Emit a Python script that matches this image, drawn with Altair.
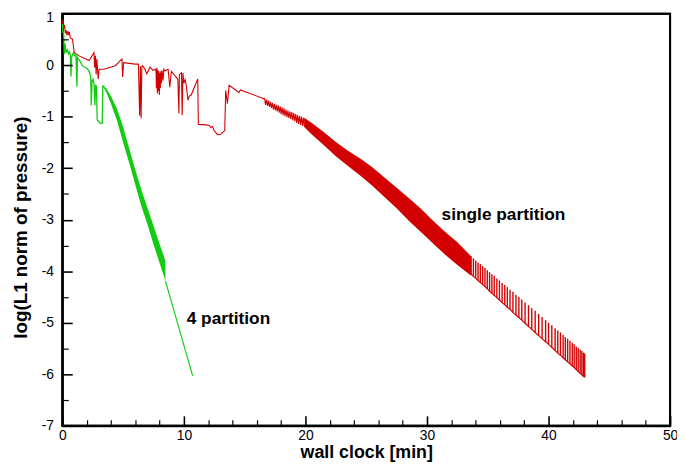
import altair as alt
import pandas as pd

RED = "#d20000"
GREEN = "#12cc12"
FONT = "Liberation Sans"

# ---------------- data ----------------
# single partition: irregular start (t in min, log10 L1 norm)
red_t = [0.00, 0.05, 0.10, 0.18, 0.25, 0.30, 0.38, 0.45, 0.52, 0.58, 0.65, 0.84, 0.98, 1.38, 1.93,
         2.20, 2.60, 2.66, 2.72, 2.78, 2.84, 2.95, 3.02, 3.41, 3.96, 4.36, 4.90, 4.96, 5.04, 5.99,
         6.26, 6.36, 6.42, 6.48, 6.54, 6.61, 6.80, 6.94, 7.21, 7.45, 7.70, 7.74, 7.78, 7.82, 7.86,
         7.90, 7.94, 7.98, 8.02, 8.06, 8.10, 8.15, 8.20, 8.28, 8.35, 8.43, 8.70, 8.84, 8.97, 9.24,
         9.50, 9.59, 9.63, 9.80, 9.86, 9.92, 10.00, 10.10, 10.20, 10.33, 10.45, 10.60, 11.14, 11.19,
         11.81, 12.09, 12.22, 12.36, 12.49, 12.76, 13.03, 13.36, 13.44, 13.58, 13.72, 14.53, 14.66,
         16.56]
red_v = [0.80, 0.88, 0.72, 0.78, 0.62, 0.68, 0.58, 0.66, 0.60, 0.64, 0.53, 0.50, 0.24, 0.18, 0.12,
         0.09, 0.24, -0.05, 0.18, -0.18, 0.12, -0.27, -0.08, -0.08, -0.04, -0.01, 0.12, -0.23, 0.05, 0.02,
         0.02, -0.98, -0.02, -1.03, -0.03, -0.01, -0.08, -0.17, -0.04, -0.10, -0.08, -0.45, -0.05, -0.55, -0.10,
         -0.50, -0.12, -0.58, -0.15, -0.45, -0.12, -0.35, -0.10, -0.30, -0.08, -0.11, -0.08, -0.43, -0.12, -0.20,
         -0.27, -0.94, -0.18, -0.15, -0.97, -0.15, -0.35, -0.28, -0.40, -0.68, -0.60, -0.58, -0.27, -1.15,
         -1.16, -1.17, -1.21, -1.19, -1.27, -1.35, -1.34, -1.27, -0.49, -0.75, -0.39, -0.53, -0.48,
         -0.65]
# single partition: first small oscillations
red_osc_t = [16.64, 16.72, 16.80, 16.88, 16.96, 17.04, 17.12, 17.20, 17.28, 17.36, 17.44, 17.52, 17.60, 17.68,
             17.76, 17.84, 17.92, 18.00, 18.08, 18.16, 18.24, 18.32, 18.40, 18.48, 18.56, 18.64, 18.72, 18.80,
             18.88, 18.96, 19.04, 19.12, 19.20, 19.28, 19.36, 19.44, 19.52, 19.60, 19.68, 19.76, 19.84, 19.92]
red_osc_v = [-0.65, -0.77, -0.67, -0.79, -0.69, -0.81, -0.71, -0.83, -0.73, -0.86, -0.75, -0.88, -0.77, -0.90,
             -0.78, -0.92, -0.80, -0.95, -0.82, -0.97, -0.84, -0.99, -0.86, -1.01, -0.88, -1.03, -0.90, -1.05,
             -0.91, -1.07, -0.93, -1.09, -0.95, -1.12, -0.97, -1.14, -0.99, -1.16, -1.00, -1.18, -1.02, -1.20]
# single partition: dense oscillation band (upper / lower envelope)
red_band_t = [19.9, 20.5, 21.5, 22.5, 23.5, 24.5, 25.5, 26.5, 27.5, 28.5, 29.5, 30.5, 31.5, 32.5, 33.63]
red_band_hi = [-1.02, -1.12, -1.30, -1.49, -1.66, -1.81, -1.98, -2.18, -2.38, -2.58, -2.79, -3.02, -3.24, -3.44, -3.71]
red_band_lo = [-1.20, -1.34, -1.55, -1.77, -1.96, -2.14, -2.34, -2.56, -2.78, -3.02, -3.24, -3.46, -3.68, -3.88, -4.09]
# single partition: separate spikes at the end
red_tooth_t = [33.63, 33.82, 34.01, 34.20, 34.39, 34.58, 34.77, 34.96, 35.15, 35.34, 35.53, 35.75, 35.96, 36.18,
               36.40, 36.61, 36.83, 37.07, 37.32, 37.56, 37.80, 38.07, 38.35, 38.62, 38.90, 39.19, 39.47, 39.76,
               40.00, 40.27, 40.54, 40.76, 40.98, 41.20, 41.38, 41.57, 41.76, 41.95, 42.11, 42.28, 42.44, 42.60,
               42.74, 42.87, 42.98]
red_tooth_hi = [-3.71, -3.75, -3.79, -3.83, -3.86, -3.90, -3.94, -3.98, -4.02, -4.06, -4.09, -4.14, -4.18, -4.23,
                -4.27, -4.31, -4.36, -4.40, -4.46, -4.50, -4.55, -4.61, -4.66, -4.72, -4.77, -4.83, -4.89, -4.95,
                -5.00, -5.05, -5.11, -5.15, -5.19, -5.24, -5.28, -5.31, -5.35, -5.39, -5.42, -5.46, -5.49, -5.52,
                -5.55, -5.58, -5.60]
red_tooth_lo = [-4.06, -4.10, -4.14, -4.18, -4.22, -4.26, -4.30, -4.34, -4.39, -4.43, -4.47, -4.51, -4.56, -4.61,
                -4.65, -4.70, -4.74, -4.80, -4.85, -4.90, -4.95, -5.01, -5.07, -5.13, -5.19, -5.25, -5.31, -5.37,
                -5.42, -5.48, -5.54, -5.59, -5.63, -5.68, -5.72, -5.76, -5.80, -5.84, -5.87, -5.91, -5.95, -5.98,
                -6.01, -6.04, -6.06]

# 4 partition
green_t = [0.00, 0.05, 0.10, 0.16, 0.22, 0.30, 0.40, 0.50, 0.57, 0.66, 0.71, 0.76, 0.90, 1.03, 1.12, 1.20,
           1.24, 1.45, 1.65, 1.85, 2.06, 2.20, 2.33, 2.38, 2.44, 2.52, 2.60, 2.68, 2.74, 2.80, 2.87, 3.00,
           3.15, 3.28, 3.33]
green_v = [0.80, 0.62, 0.66, 0.22, 0.42, 0.25, 0.30, 0.22, 0.26, 0.20, -0.22, 0.15, 0.24, 0.18, 0.20, -0.42,
           0.15, 0.08, -0.01, -0.04, -0.07, -0.12, -0.22, -0.78, -0.30, -0.27, -0.36, -0.78, -0.38, -0.42, -1.06, -1.10,
           -1.13, -1.13, -0.39]
green_band_t = [3.35, 3.6, 4.0, 4.5, 5.0, 5.5, 6.0, 6.5, 7.0, 7.5, 8.0, 8.48]
green_band_hi = [-0.39, -0.45, -0.60, -0.85, -1.20, -1.62, -2.03, -2.42, -2.77, -3.12, -3.47, -3.80]
green_band_lo = [-0.42, -0.52, -0.75, -1.08, -1.50, -1.90, -2.32, -2.74, -3.09, -3.48, -3.84, -4.19]
green_tail_t = [8.48, 10.72]
green_tail_v = [-4.19, -6.03]

x_dom = [0, 50]
y_dom = [-7, 1]
x_major = [0, 10, 20, 30, 40, 50]
x_minor = [2, 4, 6, 8, 12, 14, 16, 18, 22, 24, 26, 28, 32, 34, 36, 38, 42, 44, 46, 48]
y_major = [-7, -6, -5, -4, -3, -2, -1, 0, 1]
y_minor = [-6.5, -5.5, -4.5, -3.5, -2.5, -1.5, -0.5, 0.5]

note_text = ["single partition", "4 partition"]
note_t = [31.2, 10.23]
note_v = [-3.01, -5.02]

# ---------------- tables ----------------
red_line = pd.DataFrame({"t": red_t + red_osc_t, "v": red_v + red_osc_v})
red_line["i"] = range(len(red_line))
red_band = pd.DataFrame({"t": red_band_t, "hi": red_band_hi, "lo": red_band_lo})
red_teeth = pd.DataFrame({"t": red_tooth_t, "hi": red_tooth_hi, "lo": red_tooth_lo})
green_line = pd.DataFrame({"t": green_t, "v": green_v})
green_line["i"] = range(len(green_line))
green_band = pd.DataFrame({"t": green_band_t, "hi": green_band_hi, "lo": green_band_lo})
green_tail = pd.DataFrame({"t": green_tail_t, "v": green_tail_v})
notes = pd.DataFrame({"txt": note_text, "t": note_t, "v": note_v})
frame = pd.DataFrame({"x0": [x_dom[0]], "x1": [x_dom[1]], "y0": [y_dom[0]], "y1": [y_dom[1]]})

xs = alt.Scale(domain=x_dom, nice=False, zero=False)
ys = alt.Scale(domain=y_dom, nice=False, zero=False)

x_lab_axis = alt.Axis(orient="bottom", values=x_major, labelExpr="toString(datum.value)",
                      ticks=False, tickSize=0, domain=True, domainColor="black", domainWidth=2,
                      grid=False, labelFlush=False,
                      labelOverlap=False, labelFont=FONT, labelFontSize=14, labelColor="black",
                      labelPadding=3, title="wall clock [min]", titleFont=FONT, titleFontSize=18,
                      titleFontWeight="bold", titleColor="black", titleY=32,
                      titleBaseline="alphabetic")
y_lab_axis = alt.Axis(orient="left", values=y_major, labelExpr="toString(datum.value)",
                      ticks=False, tickSize=0, domain=True, domainColor="black", domainWidth=2,
                      grid=False, labelFlush=False,
                      labelOverlap=False, labelFont=FONT, labelFontSize=14, labelColor="black",
                      labelPadding=9,
                      labelOffset={"condition": {"test": "datum.value == 1", "value": 4}, "value": 0},
                      title="log(L1 norm of pressure)", titleFont=FONT,
                      titleFontSize=19, titleFontWeight="bold", titleColor="black",
                      titleX=-36, titleY=216, titleAngle=270, titleBaseline="alphabetic",
                      titleAlign="center")


def tick_axis(orient, vals, size, width):
    return alt.Axis(orient=orient, values=vals, labels=False, domain=False, grid=False,
                    ticks=True, tickSize=size, tickWidth=width, tickColor="black",
                    offset=-size, title=None, zindex=1)


box = alt.Chart(frame).mark_rect(filled=False, stroke="#000000", strokeWidth=2).encode(
    x=alt.X("x0:Q", scale=xs, axis=None),
    x2="x1:Q",
    y=alt.Y("y0:Q", scale=ys, axis=None),
    y2="y1:Q",
)
red_main = alt.Chart(red_line).mark_line(color=RED, strokeWidth=1.1).encode(
    x=alt.X("t:Q", scale=xs, axis=x_lab_axis),
    y=alt.Y("v:Q", scale=ys, axis=y_lab_axis),
    order="i:Q",
)
red_area = alt.Chart(red_band).mark_area(color=RED, opacity=1).encode(
    x=alt.X("t:Q", scale=xs, axis=tick_axis("bottom", x_major, 10, 1.6)),
    y=alt.Y("hi:Q", scale=ys, axis=tick_axis("left", y_major, 10, 1.6)),
    y2="lo:Q",
)
red_spikes = alt.Chart(red_teeth).mark_rule(color=RED, strokeWidth=1.4).encode(
    x=alt.X("t:Q", scale=xs, axis=tick_axis("bottom", x_minor, 6, 1.2)),
    y=alt.Y("hi:Q", scale=ys, axis=tick_axis("left", y_minor, 6, 1.2)),
    y2="lo:Q",
)
red_floor = alt.Chart(red_teeth).mark_line(color=RED, strokeWidth=1.2).encode(
    x=alt.X("t:Q", scale=xs, axis=None),
    y=alt.Y("lo:Q", scale=ys, axis=None),
)
green_main = alt.Chart(green_line).mark_line(color=GREEN, strokeWidth=1.3).encode(
    x=alt.X("t:Q", scale=xs, axis=None),
    y=alt.Y("v:Q", scale=ys, axis=None),
    order="i:Q",
)
green_area = alt.Chart(green_band).mark_area(color=GREEN, opacity=1).encode(
    x=alt.X("t:Q", scale=xs, axis=None),
    y=alt.Y("hi:Q", scale=ys, axis=None),
    y2="lo:Q",
)
green_end = alt.Chart(green_tail).mark_line(color=GREEN, strokeWidth=1.1).encode(
    x=alt.X("t:Q", scale=xs, axis=None),
    y=alt.Y("v:Q", scale=ys, axis=None),
)
labels = alt.Chart(notes).mark_text(align="left", baseline="alphabetic", font=FONT,
                                    fontSize=17.5, fontWeight="bold", color="black").encode(
    x=alt.X("t:Q", scale=xs, axis=None),
    y=alt.Y("v:Q", scale=ys, axis=None),
    text="txt:N",
)

chart = alt.layer(
    box, red_main, red_area, red_spikes, red_floor, green_main, green_area, green_end, labels
).resolve_axis(
    x="independent", y="independent"
).properties(
    width=615, height=417,
    background="white",
    autosize=alt.AutoSizeParams(type="none"),
    padding={"left": 55, "top": 3, "right": 7, "bottom": 35},
).configure_view(
    stroke="black", strokeWidth=2
)

chart.save("out.html", embed_options={"renderer": "svg", "actions": False})
